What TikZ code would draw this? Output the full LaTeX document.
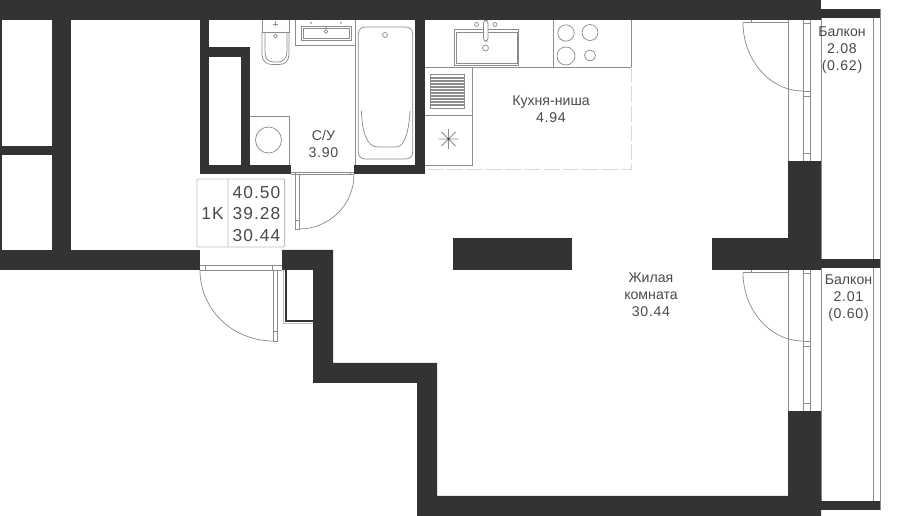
\documentclass[tikz,border=0pt]{standalone}
\usepackage{fontspec}
\setmainfont{Liberation Sans}
\newfontfamily\areafont[LetterSpace=5]{Liberation Sans}
\newfontfamily\infofont[LetterSpace=6]{Liberation Sans}
\usepackage{xcolor}
\usetikzlibrary{positioning}
\definecolor{walldark}{HTML}{333333}
\definecolor{fixline}{HTML}{8C8C8C}
\definecolor{labeltext}{HTML}{4A4A4A}
\tikzstyle{wall} = [fill=walldark, draw=none]
\tikzstyle{fixture} = [draw=fixline, line width=0.55pt]
\tikzstyle{softline} = [draw=black!25, line width=0.7pt]
\tikzstyle{roomlabel} = [text=labeltext, font=\fontsize{10.6pt}{12.8pt}\selectfont, align=center, inner sep=0pt]
\tikzstyle{infolabel} = [text=labeltext, font=\fontsize{13pt}{16pt}\selectfont\infofont, align=center, inner sep=0pt]

\begin{document}
\begin{tikzpicture}[x=0.75pt, y=-0.75pt]
        \useasboundingbox (0,0) rectangle (900,516);

        % Balconies
        \draw [fixture] (821,18) -- (821,259) (873,18) -- (873,259) (880,9) -- (880,268);
        \draw [fixture] (821,268) -- (821,501) (873,268) -- (873,501) (880,259) -- (880,510);
        \fill [wall] (821,9) rectangle (880,18);
        \fill [wall] (821,259) rectangle (880,268);
        \fill [wall] (821,501) rectangle (880,510);

        % Balcony doors and windows
        \foreach \dy in {0,250} {
            \draw [fixture] (788,20+\dy) -- (788,161+\dy) (803,20+\dy) -- (803,161+\dy) (810.5,20+\dy) -- (810.5,161+\dy);
            \draw [fixture] (743,22.5+\dy) -- (788,22.5+\dy) (751.5,20+\dy) -- (751.5,22.5+\dy);
            \draw [fixture] (803,23+\dy) -- (810.5,23+\dy) (803,91+\dy) -- (810.5,91+\dy) (803,96+\dy) -- (810.5,96+\dy) (803,153.5+\dy) -- (810.5,153.5+\dy);
            \draw [fixture] (743,22.5+\dy) .. controls (743,60+\dy) and (770,91+\dy) .. (803,91+\dy);
        }

        % Walls
        \fill [wall] (0,0) rectangle (821,20);
        \fill [wall] (0,20) rectangle (2,250);
        \fill [wall] (52,20) rectangle (71,250);
        \fill [wall] (0,146) rectangle (71,155);
        \fill [wall] (0,250) rectangle (200,270);
        \fill [wall] (199.5,20) rectangle (209,174);
        \fill [wall] (199.5,47) rectangle (250,57);
        \fill [wall] (241,47) rectangle (250,174);
        \fill [wall] (199.5,165) rectangle (291,174);
        \fill [wall] (354,165) rectangle (425,174);
        \fill [wall] (415,20) rectangle (425,174);
        \fill [wall] (788,161) rectangle (821,238);
        \fill [wall] (712,238) rectangle (821,270);
        \fill [wall] (788,411) rectangle (821,516);
        \fill [wall] (453,238) rectangle (572,270);
        \fill [wall] (282,250) -- (333,250) -- (333,363) -- (437,363) -- (437,496) -- (821,496) -- (821,516) -- (417,516) -- (417,383) -- (313,383) -- (313,270) -- (282,270) -- cycle;

        % Bathroom
        \draw [fixture] (262,20) -- (262,32) -- (289,32) -- (289,20);
        \draw [fixture] (262,32) -- (262,54) .. controls (262,61) and (266,64.5) .. (272,64.5) -- (279,64.5) .. controls (285,64.5) and (289,61) .. (289,54) -- (289,32);
        \draw [fixture] (265,32) -- (265,52) .. controls (265,58) and (268,62) .. (273,62) -- (278,62) .. controls (283,62) and (287,58) .. (287,52) -- (287,32);
        \draw [fixture] (275.5,36) circle (1.8);
        \draw [fixture] (273,24) -- (278,24) (275.5,21.5) -- (275.5,26.5);
        \draw [fixture] (295.7,20) -- (295.7,45) -- (355.5,45);
        \draw [fixture] (301,26) rectangle (351,40) (303,28) rectangle (349,38);
        \fill [fixline] (311,23) circle (1) (326,27) circle (1) (341,23) circle (1);
        \draw [fixture] (326,31.5) circle (1.8);
        \draw [fixture] (355.5,20) -- (355.5,165);
        \draw [fixture, rounded corners=5] (358.3,27) rectangle (412.7,159) ;
        \draw [fixture] (361.5,111) .. controls (362,130) and (366,147) .. (378,147) -- (396,147) .. controls (405,147) and (409,130) .. (410,111);
        \draw [fixture] (385,35) circle (2.5);
        \draw [fixture] (250,116.5) -- (289,116.5) -- (289,165);
        \draw [fixture] (268.5,140) circle (13);

        % Bathroom door
        \draw [fixture] (291,172) -- (354,172) (291,174.5) -- (354,174.5) (295.5,172) -- (295.5,174.5) (350,172) -- (350,174.5);
        \draw [fixture] (295.5,174.5) rectangle (299,229) (295.5,220) -- (299,220);
        \draw [fixture] (354,174.5) .. controls (354,205) and (329,229) .. (299,229);

        % Entrance door
        \draw [fixture] (200,265) -- (282,265) (200,270) -- (282,270) (205.5,265) -- (205.5,270) (272,265) -- (272,270);
        \draw [fixture] (273.3,270) rectangle (277.3,341) (273.3,331) -- (277.3,331);
        \draw [fixture] (200,270) .. controls (200,310) and (233,341) .. (273.3,341);

        % Closet
        \draw [softline] (283,270) -- (283,323) -- (313,323);
        \draw [draw=walldark, line width=1.5pt] (285.5,270) -- (285.5,321) -- (313,321);

        % Kitchen
        \draw [fixture] (425,67) -- (631.5,67) (553.5,20) -- (553.5,67) (631.5,20) -- (631.5,67);
        \draw [fixture] (454.5,29.5) rectangle (518.5,65.5) (456,32) rectangle (517,63);
        \draw [fixture, fill=white, rounded corners=2] (483.5,20.5) rectangle (488,41);
        \draw [fixture] (476.5,24.5) circle (2) (495,24.5) circle (2) (485.5,48) circle (3);
        \draw [fixture] (566,33) circle (8.2) (590,32.5) circle (8) (566,56) circle (9) (590,55.5) circle (5.5);
        \draw [fixture] (472.5,67) -- (472.5,165) -- (425,165) (425,115) -- (472.5,115);
        \draw [fixture] (430.5,74.5) rectangle (464.5,108.5);
        \foreach \sy in {78,81,...,105} {
            \draw [draw=fixline, line width=1.1pt] (430.5,\sy) -- (464.5,\sy);
        }
        \draw [fixture] (438.5,139) -- (458.5,139) (448.5,129) -- (448.5,149) (441.5,132) -- (455.5,146) (441.5,146) -- (455.5,132);
        \fill [walldark] (448.5,139) circle (1);
        \draw [draw=black!15, line width=0.55pt, dash pattern=on 12pt off 2.5pt] (631.5,67) -- (631.5,169) -- (425,169);

        % Info box
        \draw [softline, rounded corners=1] (197,179) rectangle (284.7,247) (228,179) -- (228,247);

        % Nodes
        \node (typelabel) [infolabel] at (212.5,214) {1K};
        \node (totalarea) [infolabel] at (256.5,192.5) {40.50};
        \node (usefularea) [infolabel] at (256.5,214) {39.28};
        \node (livingarea) [infolabel] at (256.5,235.5) {30.44};
        \node (bathlabel) [roomlabel] at (323.5,143.5) {С/У\\{\areafont 3.90}};
        \node (kitchenlabel) [roomlabel] at (551,109) {Кухня-ниша\\{\areafont 4.94}};
        \node (livinglabel) [roomlabel] at (651,295) {Жилая\\комната\\{\areafont 30.44}};
        \node (balconytop) [roomlabel] at (842,50.5) {Балкон\\{\areafont 2.08}\\{\areafont (0.62)}};
        \node (balconybottom) [roomlabel] at (848.5,298) {Балкон\\{\areafont 2.01}\\{\areafont (0.60)}};
\end{tikzpicture}
\end{document}
